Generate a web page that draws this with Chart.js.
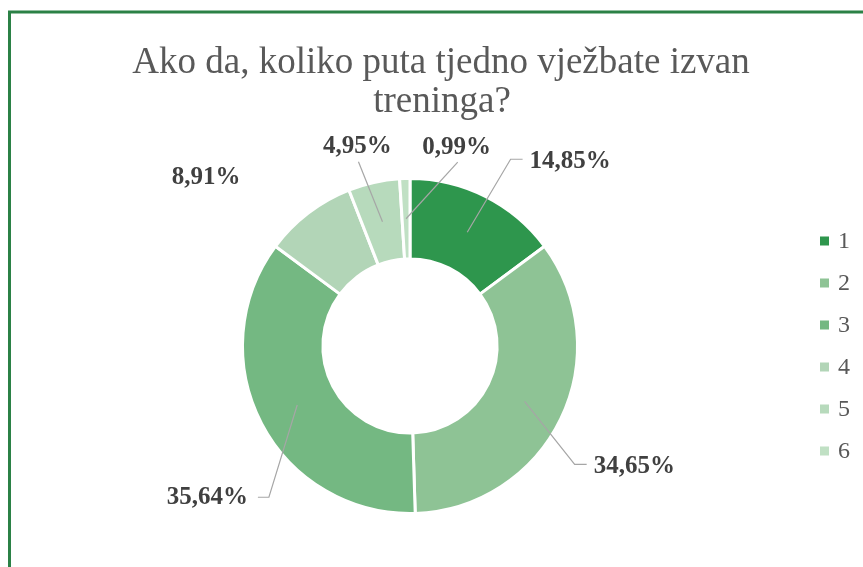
<!DOCTYPE html>
<html>
<head>
<meta charset="utf-8">
<script src="https://cdn.jsdelivr.net/npm/chart.js@4.4.1/dist/chart.umd.min.js"></script>
<style>
  html, body { margin: 0; padding: 0; background: #ffffff; }
  #wrap { width: 863px; height: 567px; position: relative; }
</style>
</head>
<body>
<div id="wrap"><canvas id="c" width="863" height="567"></canvas></div>
<script>
// ---- data ----
const titleLines = ['Ako da, koliko puta tjedno vježbate izvan', 'treninga?'];
const categories = ['1', '2', '3', '4', '5', '6'];
const percentValues = [14.85, 34.65, 35.64, 8.91, 4.95, 0.99];
const valueLabels = ['14,85%', '34,65%', '35,64%', '8,91%', '4,95%', '0,99%'];

// ---- style ----
const sliceColors = ['#2E964D', '#8EC395', '#74B882', '#B2D5B7', '#B7DABC', '#C0E0C4'];
// label placement relative to each arc: radius factor, angle shift (deg), leader type
const labelRadius = [1.46, 1.52, 1.51, 1.58, 1.23, 1.22];
const labelShift = [14.2, 2.4, -9.1, -13.0, -2.3, 15.0];
const leaderType = ['right', 'right', 'left', 'none', 'bottom', 'bottom'];

const serif = '"Liberation Serif", "Times New Roman", serif';

const decorPlugin = {
  id: 'decor',
  afterDraw(chart) {
    const ctx = chart.ctx;
    ctx.save();
    // frame
    ctx.strokeStyle = '#2B8146';
    ctx.lineWidth = 3;
    ctx.beginPath();
    ctx.moveTo(9.5, 600);
    ctx.lineTo(9.5, 12);
    ctx.lineTo(900, 12);
    ctx.stroke();

    // title
    ctx.fillStyle = '#595959';
    ctx.font = '37px ' + serif;
    ctx.textAlign = 'center';
    ctx.textBaseline = 'alphabetic';
    ctx.fillText(titleLines[0], 441, 73);
    ctx.fillText(titleLines[1], 442, 112);

    // legend
    ctx.font = '24px ' + serif;
    ctx.textAlign = 'left';
    ctx.textBaseline = 'middle';
    chart.data.labels.forEach((lab, i) => {
      const y = 241 + i * 42;
      ctx.fillStyle = sliceColors[i];
      ctx.fillRect(820, y - 4.5, 9, 9);
      ctx.fillStyle = '#595959';
      ctx.fillText(lab, 838, y + 1);
    });

    // data labels + leader lines
    const meta = chart.getDatasetMeta(0);
    ctx.font = 'bold 25px ' + serif;
    meta.data.forEach((arc, i) => {
      const p = arc.getProps(['x', 'y', 'startAngle', 'endAngle', 'outerRadius'], true);
      const mid = (p.startAngle + p.endAngle) / 2;
      const la = mid + labelShift[i] * Math.PI / 180;
      const lx = p.x + Math.cos(la) * p.outerRadius * labelRadius[i];
      const ly = p.y + Math.sin(la) * p.outerRadius * labelRadius[i];
      const text = valueLabels[i];
      const w = ctx.measureText(text).width;
      // leader
      const sx = p.x + Math.cos(mid) * p.outerRadius * 0.76;
      const sy = p.y + Math.sin(mid) * p.outerRadius * 0.76;
      ctx.strokeStyle = '#A6A6A6';
      ctx.lineWidth = 1.2;
      if (leaderType[i] === 'right') {
        const left = lx - w / 2;
        ctx.beginPath();
        ctx.moveTo(sx, sy);
        ctx.lineTo(left - 19, ly - 2);
        ctx.lineTo(left - 7, ly - 2);
        ctx.stroke();
      } else if (leaderType[i] === 'left') {
        const right = lx + w / 2;
        ctx.beginPath();
        ctx.moveTo(sx, sy);
        ctx.lineTo(right + 21, ly);
        ctx.lineTo(right + 10, ly);
        ctx.stroke();
      } else if (leaderType[i] === 'bottom') {
        ctx.beginPath();
        ctx.moveTo(sx, sy);
        ctx.lineTo(lx + 1, ly + 15);
        ctx.stroke();
      }
      ctx.fillStyle = '#404040';
      ctx.textAlign = 'center';
      ctx.textBaseline = 'middle';
      ctx.fillText(text, lx, ly);
    });
    ctx.restore();
  }
};

new Chart(document.getElementById('c'), {
  type: 'doughnut',
  data: {
    labels: categories,
    datasets: [{
      data: percentValues,
      backgroundColor: sliceColors,
      borderColor: '#ffffff',
      borderWidth: 3,
      hoverOffset: 0
    }]
  },
  options: {
    responsive: false,
    animation: false,
    cutout: '52%',
    layout: { padding: { top: 177, bottom: 52, left: 241, right: 284 } },
    plugins: {
      legend: { display: false },
      title: { display: false },
      tooltip: { enabled: false }
    }
  },
  plugins: [decorPlugin]
});
</script>
</body>
</html>
